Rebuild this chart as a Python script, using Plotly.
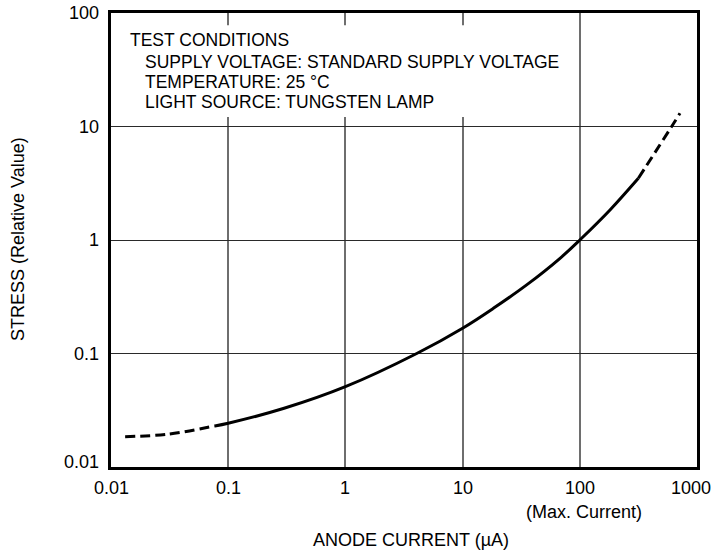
import math
import plotly.graph_objects as go

# Stress vs. anode current
low_current = [0.0132, 0.03, 0.077]
low_stress = [0.0185, 0.0194, 0.023]

mid_current = [0.077, 0.1, 0.3, 1, 4.06, 10, 18.3, 35.2, 67.8, 100, 181, 316]
mid_stress = [0.023, 0.0243, 0.0329, 0.051, 0.1, 0.167, 0.25, 0.402, 0.69,
              1.0, 1.84, 3.5]

high_current = [316, 608, 716]
high_stress = [3.5, 10, 13.1]

x_tickvals = [0.01, 0.1, 1, 10, 100, 1000]
x_ticktext = ["0.01", "0.1", "1", "10", "100", "1000"]
y_tickvals = [0.01, 0.1, 1, 10, 100]
y_ticktext = ["0.01", "0.1", "1", "10", "100"]
max_current = 100

conditions = [
    ("TEST CONDITIONS", 0),
    ("SUPPLY VOLTAGE: STANDARD SUPPLY VOLTAGE", 15),
    ("TEMPERATURE: 25 °C", 15),
    ("LIGHT SOURCE: TUNGSTEN LAMP", 15),
]

FONT = "Liberation Sans, Arial, Helvetica, sans-serif"
L, R, T, B = 111, 18, 13, 89
W, H = 715, 556
PW, PH = W - L - R, H - T - B

fig = go.Figure()
line_style = dict(color="black", width=3, shape="spline")
fig.add_trace(go.Scatter(x=low_current, y=low_stress, mode="lines",
                         line=dict(line_style, dash="10px,5px")))
fig.add_trace(go.Scatter(x=mid_current, y=mid_stress, mode="lines",
                         line=line_style))
fig.add_trace(go.Scatter(x=high_current, y=high_stress, mode="lines",
                         line=dict(line_style, dash="10px,5px")))

# white panel behind the test-condition text, hiding the grid there
fig.add_shape(type="rect", xref="x", yref="y", layer="between",
              x0=0.01, x1=91, y0=12.1, y1=78,
              fillcolor="white", line=dict(width=0))


def py(ypix):
    return (H - B - ypix) / PH


def px(xpix):
    return (xpix - L) / PW


def label(text, size=18, **kw):
    fig.add_annotation(text=text, showarrow=False,
                       font=dict(size=size, color="black", family=FONT), **kw)


line_y = [40, 61.5, 82, 102]
for (text, indent), yp in zip(conditions, line_y):
    label(text, size=17.5, xref="paper", yref="paper", x=px(128 + indent),
          y=py(yp), xanchor="left", yanchor="middle")

# decade labels (annotation positions on log axes are given in log10 units);
# the outermost ones are nudged to stay inside the page
for i, (v, t) in enumerate(zip(x_tickvals, x_ticktext)):
    shift = -6 if i == len(x_tickvals) - 1 else 0
    label(t, xref="x", yref="paper", x=math.log10(v), y=py(488),
          xanchor="center", yanchor="middle", xshift=shift)
for i, (v, t) in enumerate(zip(y_tickvals, y_ticktext)):
    shift = 5 if i == 0 else 0
    label(t, xref="paper", yref="y", x=px(101), y=math.log10(v),
          xanchor="right", yanchor="middle", yshift=shift)

label("(Max. Current)", xref="x", yref="paper", x=math.log10(max_current),
      y=py(512), xanchor="center", yanchor="middle", xshift=4)
label("ANODE CURRENT (µA)", xref="paper", yref="paper", x=px(411),
      y=py(540), xanchor="center", yanchor="middle")
label("STRESS (Relative Value)", xref="paper", yref="paper", x=px(18),
      y=py(239), xanchor="center", yanchor="middle", textangle=-90)

fig.update_xaxes(type="log", range=[-2, 3], tickvals=x_tickvals,
                 showticklabels=False, showgrid=True, gridcolor="#6e6e6e",
                 gridwidth=1.5, showline=True, linecolor="black",
                 linewidth=2.5, mirror=True, ticks="", zeroline=False,
                 automargin=False)
fig.update_yaxes(type="log", range=[-2, 2], tickvals=y_tickvals,
                 showticklabels=False, showgrid=True, gridcolor="#2a2a2a",
                 gridwidth=1, showline=True, linecolor="black",
                 linewidth=2.5, mirror=True, ticks="", zeroline=False,
                 automargin=False)

fig.update_layout(width=W, height=H, margin=dict(l=L, r=R, t=T, b=B),
                  paper_bgcolor="white", plot_bgcolor="white",
                  showlegend=False, font=dict(family=FONT, color="black"))

fig.write_html("out.html")
